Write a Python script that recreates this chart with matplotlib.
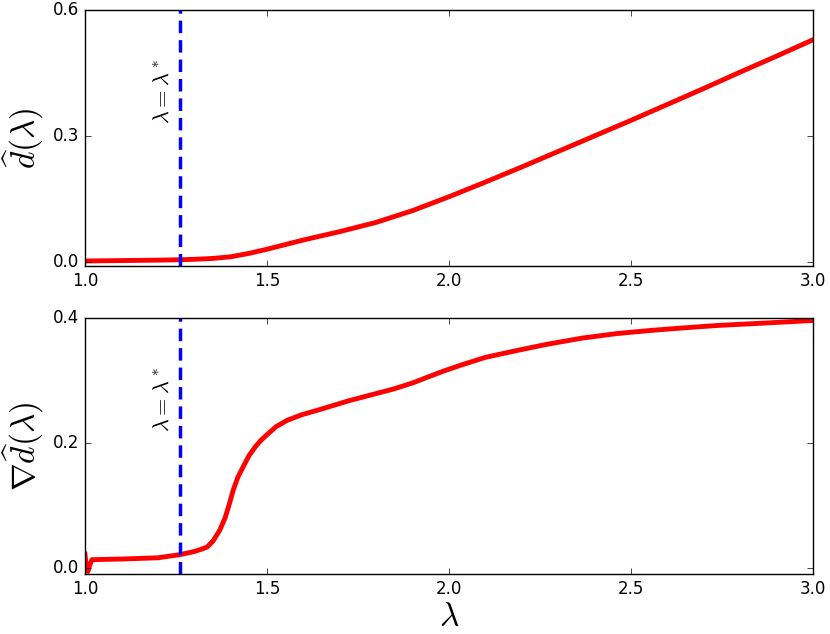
import matplotlib
matplotlib.use('Agg')
import matplotlib.pyplot as plt

plt.style.use('classic')
plt.rcParams['mathtext.fontset'] = 'cm'
plt.rcParams['lines.scale_dashes'] = False

# estimated lambda* (position of the dashed line)
lam_star = 1.261

# top panel: d_hat(lambda)
lam_top = [1.0, 1.1, 1.2, 1.26, 1.3, 1.35, 1.4, 1.45, 1.5, 1.55, 1.6, 1.65, 1.7,
           1.75, 1.8, 1.9, 2.0, 2.1, 2.2, 2.3, 2.4, 2.5, 2.6, 2.7, 2.8, 2.9, 3.0]
d_hat = [0.002, 0.003, 0.004, 0.005, 0.006, 0.008, 0.012, 0.020, 0.030, 0.041,
         0.052, 0.062, 0.072, 0.083, 0.094, 0.122, 0.155, 0.190, 0.226, 0.263,
         0.300, 0.337, 0.375, 0.413, 0.452, 0.490, 0.529]

# bottom panel: gradient of d_hat
lam_bot = [1.0, 1.004, 1.008, 1.013, 1.019, 1.1, 1.2, 1.261, 1.3, 1.316, 1.335,
           1.352, 1.37, 1.385, 1.397, 1.407, 1.42, 1.434, 1.45, 1.467, 1.483,
           1.5, 1.525, 1.555, 1.595, 1.637, 1.728, 1.8, 1.846, 1.9, 1.94, 1.985,
           2.03, 2.1, 2.187, 2.27, 2.368, 2.46, 2.552, 2.64, 2.736, 2.87, 3.0]
grad_d = [0.022, 0.0, -0.006, 0.004, 0.013, 0.014, 0.016, 0.021, 0.026, 0.029,
          0.033, 0.043, 0.060, 0.080, 0.103, 0.124, 0.145, 0.161, 0.179, 0.193,
          0.204, 0.213, 0.226, 0.236, 0.245, 0.252, 0.268, 0.279, 0.286, 0.296,
          0.305, 0.315, 0.324, 0.337, 0.348, 0.358, 0.368, 0.375, 0.380, 0.384,
          0.388, 0.392, 0.396]

fig = plt.figure(figsize=(8.3, 6.34), dpi=100)
fig.patch.set_facecolor('white')

ax1 = fig.add_axes([0.1024, 0.5804, 0.877, 0.4038])
ax2 = fig.add_axes([0.1024, 0.0946, 0.877, 0.4038])

ax1.plot(lam_top, d_hat, color='red', linewidth=3.5)
ax1.axvline(lam_star, color='blue', linewidth=2.5, linestyle=(0, (9, 5)))
ax1.text(1.214, 0.405, r'$\lambda = \lambda^*$', rotation=90,
         ha='center', va='center', fontsize=16)
ax1.set_xlim(1.0, 3.0)
ax1.set_ylim(-0.01, 0.6)
ax1.set_yticks([0.0, 0.3, 0.6])
ax1.set_xticks([1.0, 1.5, 2.0, 2.5, 3.0])
ax1.set_ylabel(r'$\widehat{d}(\lambda)$', fontsize=24)

ax2.plot(lam_bot, grad_d, color='red', linewidth=3.5)
ax2.axvline(lam_star, color='blue', linewidth=2.5, linestyle=(0, (9, 5)))
ax2.text(1.214, 0.27, r'$\lambda = \lambda^*$', rotation=90,
         ha='center', va='center', fontsize=16)
ax2.set_xlim(1.0, 3.0)
ax2.set_ylim(-0.01, 0.4)
ax2.set_yticks([0.0, 0.2, 0.4])
ax2.set_xticks([1.0, 1.5, 2.0, 2.5, 3.0])
ax2.set_ylabel(r'$\nabla\widehat{d}(\lambda)$', fontsize=24)
ax2.set_xlabel(r'$\lambda$', fontsize=24, labelpad=2)

fig.savefig('out.png', dpi=100, facecolor='white')
